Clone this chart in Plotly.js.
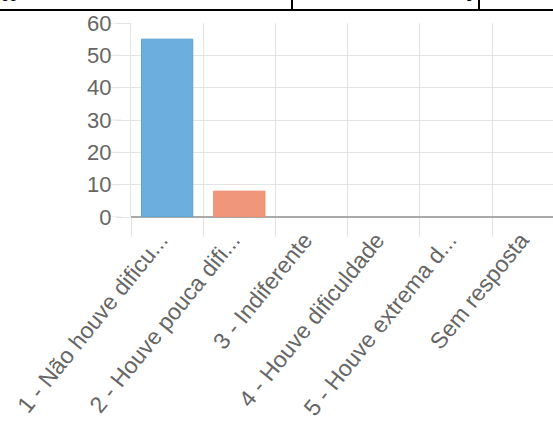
<!DOCTYPE html>
<html>
<head>
<meta charset="utf-8">
<script src="https://cdn.plot.ly/plotly-3.0.1.min.js"></script>
<style>html,body{margin:0;padding:0;background:#fff;overflow:hidden}#chart{width:553px;height:424px}</style>
</head>
<body>
<div id="chart"></div>
<script>
var categories = ["1 - Não houve dificu...", "2 - Houve pouca difi...", "3 - Indiferente", "4 - Houve dificuldade", "5 - Houve extrema d...", "Sem resposta"];
var values = [55, 8, 0, 0, 0, 0];
var barColors = ["#6caedd", "#f0977b", "rgba(0,0,0,0)", "rgba(0,0,0,0)", "rgba(0,0,0,0)", "rgba(0,0,0,0)"];
var barLines = ["#5b9fd2", "#e98a6d", "rgba(0,0,0,0)", "rgba(0,0,0,0)", "rgba(0,0,0,0)", "rgba(0,0,0,0)"];
var yTicks = [0, 10, 20, 30, 40, 50, 60];
var tableTexts = ["55", "0"];

var W = 553, H = 424, L = 131, T = 23, B = 207;
var plotW = W - L, plotH = H - T - B;
function px2x(px){ return (px - L) / plotW; }
function py2y(py){ return (H - B - py) / plotH; }

var grid = "#e4e4e4";
var trace = {
  type: "bar",
  x: categories,
  y: values,
  marker: {color: barColors, line: {color: barLines, width: 1}},
  hoverinfo: "none"
};

var shapes = [
  {type: "line", xref: "paper", yref: "paper", x0: px2x(0), x1: px2x(W), y0: py2y(10), y1: py2y(10), line: {color: "#000", width: 2}},
  {type: "line", xref: "paper", yref: "paper", x0: px2x(292), x1: px2x(292), y0: py2y(10), y1: py2y(-5), line: {color: "#000", width: 2}},
  {type: "line", xref: "paper", yref: "paper", x0: px2x(479), x1: px2x(479), y0: py2y(10), y1: py2y(-5), line: {color: "#000", width: 2}}
];
// extend y tick marks to the left (library y scale)
yTicks.forEach(function(v){
  shapes.push({type: "line", xref: "paper", yref: "y", x0: px2x(111), x1: px2x(121), y0: v, y1: v, line: {color: grid, width: 1}, layer: "below"});
});

var layout = {
  width: W, height: H,
  margin: {l: L, r: 0, t: T, b: B, pad: 0},
  paper_bgcolor: "#fff", plot_bgcolor: "#fff",
  showlegend: false,
  bargap: 0.29,
  font: {family: "Liberation Sans, Arial, sans-serif", color: "#666"},
  xaxis: {
    type: "category",
    range: [-0.5, -0.5 + plotW / 72.2],
    tickson: "boundaries",
    ticks: "outside", ticklen: 19, tickcolor: grid, tickwidth: 1,
    ticklabelstandoff: 4,
    ticklabelshift: -7,
    showgrid: true, gridcolor: grid, gridwidth: 1,
    tickangle: -51,
    tickfont: {size: 23, color: "#666"},
    showline: false, zeroline: false,
    automargin: false, fixedrange: true
  },
  yaxis: {
    range: [0, 60],
    tickvals: yTicks,
    ticktext: yTicks.map(String),
    ticks: "outside", ticklen: 14, tickcolor: grid, tickwidth: 1,
    showgrid: true, gridcolor: grid, gridwidth: 1,
    zeroline: true, zerolinecolor: "#aaaaaa", zerolinewidth: 1.5,
    showline: true, linecolor: grid, linewidth: 1,
    tickfont: {size: 22, color: "#666"},
    automargin: false, fixedrange: true
  },
  shapes: shapes,
  annotations: [
    {xref: "paper", yref: "paper", x: px2x(-1), y: py2y(6), xanchor: "left", yanchor: "bottom", text: tableTexts[0], showarrow: false, font: {size: 15, color: "#000", family: "Liberation Sans, Arial, sans-serif"}},
    {xref: "paper", yref: "paper", x: px2x(475), y: py2y(6), xanchor: "right", yanchor: "bottom", text: tableTexts[1], showarrow: false, font: {size: 15, color: "#000", family: "Liberation Sans, Arial, sans-serif"}}
  ]
};

Plotly.newPlot("chart", [trace], layout, {staticPlot: true, displayModeBar: false});
</script>
</body>
</html>
